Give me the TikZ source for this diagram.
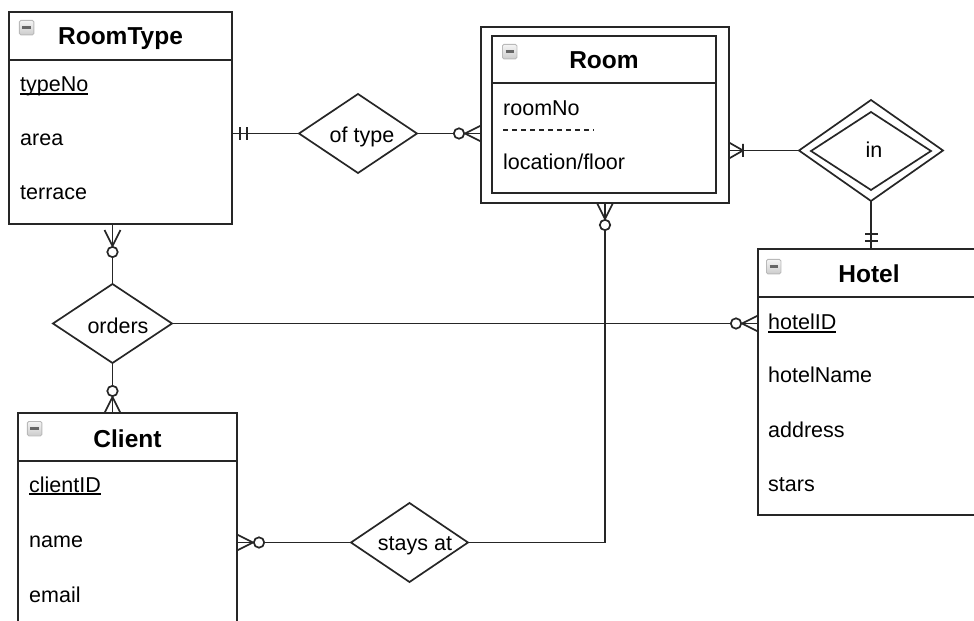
\documentclass[tikz,border=0pt]{standalone}
\usepackage{fontspec}
\setmainfont{Liberation Sans}
\usetikzlibrary{shapes.geometric,calc}
\newcommand\attrfont{\fontsize{21.5bp}{26bp}\selectfont}
\newcommand\titlefont{\fontsize{24.5bp}{29bp}\selectfont\bfseries}
\newcommand\keyul[1]{\setbox0\hbox{#1}\rlap{\rule[-2.6bp]{\wd0}{1.2bp}}\box0}
\tikzset{
  ln/.style={draw=black!85, line width=1.7bp},
  ent/.style={ln, rectangle, inner sep=0, outer sep=0, fill=white},
  rel/.style={ln, diamond, inner sep=0, outer sep=0, fill=white},
  attr/.style={anchor=base west, inner sep=0, font=\attrfont},
  ttl/.style={anchor=base, inner sep=0, font=\titlefont},
  rlab/.style={anchor=base, inner sep=0, font=\attrfont},
  icon/.style={draw=gray!55, line width=0.8bp, top color=gray!8, bottom color=gray!40, minimum size=14.5bp, inner sep=0, rounded corners=1.5bp, anchor=north west},
  minus/.style={line width=2.4bp, draw=black!60},
  pics/zeromany/.style={code={
    \draw[ln] (0,8)--(16,0)--(0,-8);
    \draw[ln, fill=white] (22,0) circle (5.2bp);}},
  pics/onemany/.style={code={
    \draw[ln] (0,8)--(14,0)--(0,-8) (14,6.5)--(14,-6.5);}},
  pics/oneone/.style={code={
    \draw[ln] (8,6.5)--(8,-6.5) (15,6.5)--(15,-6.5);}},
}
\begin{document}
\begin{tikzpicture}[x=1bp,y=-1bp]
\useasboundingbox (0,0) rectangle (974,621);
\fill[white] (0,0) rectangle (974,621);
\clip (0,0) rectangle (974,621);

% ---------- entities ----------
\node[ent, minimum width=223bp, minimum height=212bp] (roomtype) at (120.5,118) {};
\node[ent, minimum width=248bp, minimum height=176bp] (roomouter) at (605,115) {};
\node[ent, minimum width=224bp, minimum height=157bp] (room) at (604,114.5) {};
\node[ent, minimum width=222bp, minimum height=266bp] (hotel) at (869,382) {};
\node[ent, minimum width=219bp, minimum height=247bp] (client) at (127.5,536.5) {};

% header dividers
\draw[ln] ($(roomtype.north west)+(0,48)$) -- ($(roomtype.north east)+(0,48)$);
\draw[ln] ($(room.north west)+(0,47)$) -- ($(room.north east)+(0,47)$);
\draw[ln] ($(hotel.north west)+(0,48)$) -- ($(hotel.north east)+(0,48)$);
\draw[ln] ($(client.north west)+(0,48)$) -- ($(client.north east)+(0,48)$);

% icons
\node[icon] (rtIcon) at ($(roomtype.north west)+(10,8)$) {};
\draw[minus] ($(rtIcon.west)+(3.5,0)$) -- ($(rtIcon.east)+(-3.5,0)$);
\node[icon] (rmIcon) at ($(room.north west)+(10,8)$) {};
\draw[minus] ($(rmIcon.west)+(3.5,0)$) -- ($(rmIcon.east)+(-3.5,0)$);
\node[icon] (htIcon) at ($(hotel.north west)+(8,10)$) {};
\draw[minus] ($(htIcon.west)+(3.5,0)$) -- ($(htIcon.east)+(-3.5,0)$);
\node[icon] (clIcon) at ($(client.north west)+(9,8)$) {};
\draw[minus] ($(clIcon.west)+(3.5,0)$) -- ($(clIcon.east)+(-3.5,0)$);

% titles
\node[ttl] (rtT) at ($(roomtype.north)+(0,33)$) {RoomType};
\node[ttl] (rmT) at ($(room.north)+(0,33)$) {Room};
\node[ttl] (htT) at ($(hotel.north)+(0,34)$) {Hotel};
\node[ttl] (clT) at ($(client.north)+(0,34)$) {Client};

% attributes
\node[attr] (rtA1) at ($(roomtype.north west)+(11,80)$) {\keyul{typeNo}};
\node[attr] (rtA2) at ($(roomtype.north west)+(11,134)$) {area};
\node[attr] (rtA3) at ($(roomtype.north west)+(11,188)$) {terrace};

\node[attr] (rmA1) at ($(room.north west)+(11,80)$) {roomNo};
\draw[ln, line width=1.4bp, dash pattern=on 5bp off 4bp] ($(room.north west)+(11,94)$) -- ($(room.north west)+(102,94)$);
\node[attr] (rmA2) at ($(room.north west)+(11,134)$) {location/floor};

\node[attr] (htA1) at ($(hotel.north west)+(10,81)$) {\keyul{hotelID}};
\node[attr] (htA2) at ($(hotel.north west)+(10,134)$) {hotelName};
\node[attr] (htA3) at ($(hotel.north west)+(10,188)$) {address};
\node[attr] (htA4) at ($(hotel.north west)+(10,242)$) {stars};

\node[attr] (clA1) at ($(client.north west)+(11,79)$) {\keyul{clientID}};
\node[attr] (clA2) at ($(client.north west)+(11,134)$) {name};
\node[attr] (clA3) at ($(client.north west)+(11,189)$) {email};

% ---------- relationships ----------
\node[rel, minimum width=118bp, minimum height=79bp] (oftype) at (358,133.5) {};
\node[rlab] (oftypeL) at (362,143) {of type};
\node[rel, minimum width=144bp, minimum height=101bp] (inO) at (871,150.5) {};
\node[rel, minimum width=120bp, minimum height=78bp] (inI) at (871,151) {};
\node[rlab] (inL) at (874,158) {in};
\node[rel, minimum width=119bp, minimum height=79bp] (orders) at (112.5,323.5) {};
\node[rlab] (ordersL) at (118,333) {orders};
\node[rel, minimum width=117bp, minimum height=79bp] (staysat) at (409.5,542.5) {};
\node[rlab] (staysatL) at (415,550) {stays at};

% ---------- connectors ----------
\draw[ln] (roomtype.east |- oftype.west) -- (oftype.west);
\draw[ln] (oftype.east) -- (oftype.east -| roomouter.west);
\draw[ln] (roomouter.east |- inO.west) -- (inO.west);
\draw[ln] (inO.south) -- (inO.south |- hotel.north);
\draw[ln] (roomtype.south -| orders.north) -- (orders.north);
\draw[ln] (orders.south) -- (orders.south |- client.north);
\draw[ln] (orders.east) -- (orders.east -| hotel.west);
\draw[ln] (client.east |- staysat.west) -- (staysat.west);
\draw[ln] (staysat.east) -| (roomouter.south);

% ---------- cardinality marks ----------
\pic at (roomtype.east |- oftype.west) {oneone};
\pic[rotate=180] at (oftype.east -| roomouter.west) {zeromany};
\pic at (roomouter.east |- inO.west) {onemany};
\pic[rotate=90] at (inO.south |- hotel.north) {oneone};
\coordinate (rtFoot) at ($(roomtype.south -| orders.north)+(0,6)$);
\pic[rotate=-90] at (rtFoot) {zeromany};
\pic[rotate=90] at (orders.south |- client.north) {zeromany};
\pic[rotate=180] at (orders.east -| hotel.west) {zeromany};
\pic at (client.east |- staysat.west) {zeromany};
\pic[rotate=-90] at (roomouter.south) {zeromany};
\end{tikzpicture}
\end{document}
